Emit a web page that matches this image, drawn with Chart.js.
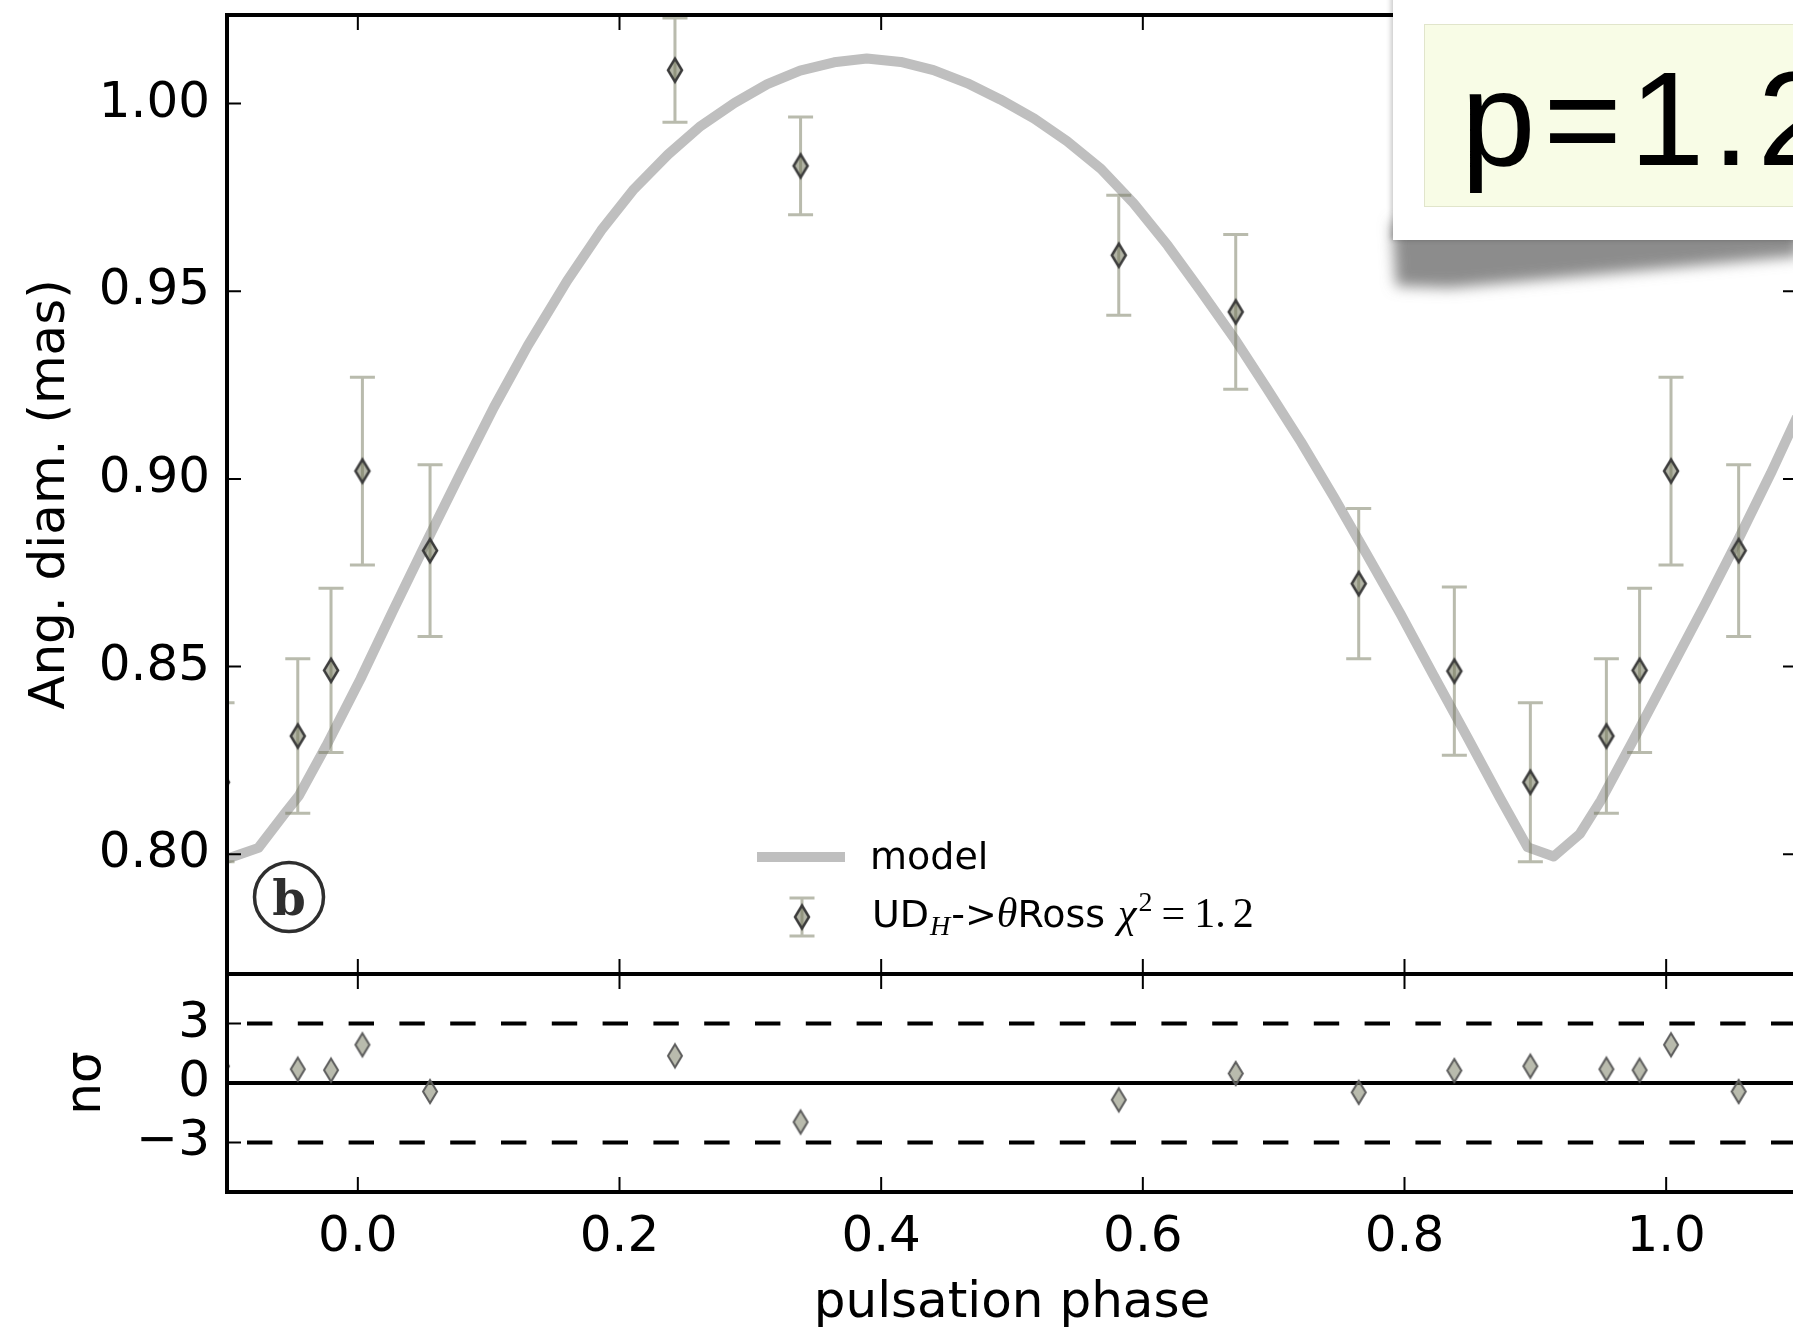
<!DOCTYPE html>
<html>
<head>
<meta charset="utf-8">
<title>Angular diameter vs pulsation phase</title>
<script src="https://cdn.jsdelivr.net/npm/chart.js@4.4.1/dist/chart.umd.min.js"></script>
<style>
  html, body { margin: 0; padding: 0; overflow: hidden; background: #fff; }
  #wrap { position: relative; width: 1793px; height: 1332px; overflow: hidden; }
  canvas, #shadow { position: absolute; left: 0; top: 0; }
  #card { position: absolute; left: 1393px; top: -20px; width: 420px; height: 260px; background: #fff;
          box-shadow: -2px 0 5px rgba(0, 0, 0, 0.22); }
  #note { position: absolute; left: 1424px; top: 24px; width: 400px; height: 181px;
          background: #f8fce6; border: 1px solid #e1e5cb; }
  #noteText { position: absolute; left: 1461px; top: 52px; font: 134px "Liberation Sans", Arial, sans-serif;
              line-height: 134px; letter-spacing: 8px; color: #000; white-space: nowrap; }
</style>
</head>
<body>
<div id="wrap">
  <canvas id="diamChart" width="1800" height="1332"></canvas>
  <canvas id="sigmaChart" width="1800" height="1332"></canvas>
  <svg id="shadow" width="1800" height="1332">
    <defs>
      <filter id="blur" x="-20%" y="-100%" width="140%" height="300%">
        <feGaussianBlur stdDeviation="7"/>
      </filter>
    </defs>
    <polygon points="1392,222 1800,222 1800,256 1450,288 1396,286" fill="#8c8c8c" filter="url(#blur)"/>
  </svg>
  <div id="card"></div>
  <div id="note"></div>
  <div id="noteText">p=1.2</div>
</div>

<script>
// interferometric points (phase, angular diameter in mas, 1-sigma error)
const phase   = [-0.1038, -0.0459, -0.0205, 0.0035, 0.0552, 0.2424, 0.3384, 0.5816,
                 0.6710, 0.7650, 0.8381, 0.8962, 0.9543, 0.9797, 1.0037, 1.0554];
const diam    = [0.8192, 0.8315, 0.8490, 0.9021, 0.8809, 1.0089, 0.9834, 0.9596,
                 0.9445, 0.8721, 0.8488, 0.8192, 0.8315, 0.8490, 0.9021, 0.8809];
const diamErr = [0.0212, 0.0206, 0.0219, 0.0250, 0.0229, 0.0139, 0.0130, 0.0160,
                 0.0206, 0.0200, 0.0224, 0.0212, 0.0206, 0.0219, 0.0250, 0.0229];
// residuals in units of sigma
const nSigma  = [0.85, 0.70, 0.65, 1.93, -0.43, 1.37, -1.97, -0.85,
                 0.48, -0.47, 0.63, 0.85, 0.70, 0.65, 1.93, -0.43];

// pulsation model curve
const modelPhase = [-0.100, -0.076, -0.056, -0.045, -0.024, 0.002, 0.027, 0.053, 0.078, 0.104,
                    0.130, 0.160, 0.186, 0.211, 0.237, 0.262, 0.288, 0.313, 0.338, 0.364,
                    0.389, 0.415, 0.440, 0.466, 0.491, 0.517, 0.542, 0.568, 0.593, 0.619,
                    0.644, 0.670, 0.695, 0.721, 0.746, 0.771, 0.797, 0.822, 0.848, 0.873,
                    0.894, 0.914, 0.934, 0.950, 0.975, 1.003, 1.030, 1.056, 1.080, 1.100];
const modelDiam  = [0.7988, 0.8017, 0.8108, 0.8156, 0.8290, 0.8467, 0.8650, 0.8836, 0.9012, 0.9191,
                    0.9356, 0.9528, 0.9662, 0.9772, 0.9864, 0.9940, 1.0002, 1.0052, 1.0088, 1.0110,
                    1.0120, 1.0111, 1.0089, 1.0054, 1.0011, 0.9960, 0.9900, 0.9826, 0.9734, 0.9622,
                    0.9502, 0.9374, 0.9240, 0.9098, 0.8952, 0.8800, 0.8640, 0.8478, 0.8312, 0.8150,
                    0.8019, 0.7994, 0.8054, 0.8143, 0.8305, 0.8490, 0.8668, 0.8845, 0.9015, 0.9165];

const xTicks = [0.0, 0.2, 0.4, 0.6, 0.8, 1.0];
const diamTicks = [0.80, 0.85, 0.90, 0.95, 1.00];
const sigmaTicks = [-3, 0, 3];
const sigmaLevels = [3, 0, -3];

const xMin = -0.1, xMax = 1.1;
const diamMin = 0.7681, diamMax = 1.0236;
const sigmaMin = -5.5, sigmaMax = 5.5;

const SANS = '"DejaVu Sans", sans-serif';
const SERIF = '"Liberation Serif", serif';
const modelColor = '#bfbfbf';
const errColor = 'rgba(115, 119, 91, 0.5)';

function thinDiamond(w, h, fill, edge, lw) {
  const pad = 5;
  const c = document.createElement('canvas');
  c.width = w + pad * 2;
  c.height = h + pad * 2;
  const g = c.getContext('2d');
  const cx = c.width / 2, cy = c.height / 2;
  g.beginPath();
  g.moveTo(cx, cy - h / 2);
  g.lineTo(cx + w / 2, cy);
  g.lineTo(cx, cy + h / 2);
  g.lineTo(cx - w / 2, cy);
  g.closePath();
  g.fillStyle = fill;
  g.fill();
  g.lineWidth = lw;
  g.strokeStyle = edge;
  g.stroke();
  return c;
}

const diamondTop = thinDiamond(14, 23, 'rgba(115, 119, 91, 0.55)', '#3c3c3c', 2.5);
const diamondRes = thinDiamond(14, 23, 'rgba(115, 119, 91, 0.5)', '#5c5c5c', 2);

// box with inward ticks, matplotlib style
const frame = {
  id: 'frame',
  afterDraw(chart, args, opts) {
    const { ctx, chartArea: a, scales: { x, y } } = chart;
    ctx.save();
    ctx.strokeStyle = '#000';
    ctx.lineWidth = 2;
    ctx.beginPath();
    xTicks.forEach(v => {
      const px = x.getPixelForValue(v);
      ctx.moveTo(px, a.top); ctx.lineTo(px, a.top + 15);
      ctx.moveTo(px, a.bottom); ctx.lineTo(px, a.bottom - 15);
    });
    opts.yTicks.forEach(v => {
      const py = y.getPixelForValue(v);
      ctx.moveTo(a.left, py); ctx.lineTo(a.left + 14, py);
      ctx.moveTo(a.right, py); ctx.lineTo(a.right - 14, py);
    });
    ctx.stroke();
    ctx.lineWidth = 4;
    ctx.strokeRect(a.left, a.top, a.right - a.left, a.bottom - a.top);
    ctx.restore();
  }
};

function drawErrorBar(ctx, px, yHi, yLo) {
  ctx.beginPath();
  ctx.moveTo(px, yHi); ctx.lineTo(px, yLo);
  ctx.moveTo(px - 12.5, yHi); ctx.lineTo(px + 12.5, yHi);
  ctx.moveTo(px - 12.5, yLo); ctx.lineTo(px + 12.5, yLo);
  ctx.stroke();
}

const errorBars = {
  id: 'errorBars',
  beforeDatasetDraw(chart, args) {
    if (args.index !== 0) return;
    const { ctx, chartArea: a, scales: { x, y } } = chart;
    ctx.save();
    ctx.beginPath();
    ctx.rect(a.left, a.top, a.right - a.left, a.bottom - a.top);
    ctx.clip();
    ctx.strokeStyle = errColor;
    ctx.lineWidth = 3;
    phase.forEach((p, i) => {
      drawErrorBar(ctx, x.getPixelForValue(p),
        y.getPixelForValue(diam[i] + diamErr[i]),
        y.getPixelForValue(diam[i] - diamErr[i]));
    });
    ctx.restore();
  }
};

function drawRich(ctx, parts, x, y) {
  parts.forEach(p => {
    ctx.font = p.font;
    x += p.pre || 0;
    ctx.fillText(p.text, x, y + (p.dy || 0));
    x += ctx.measureText(p.text).width;
  });
}

const legendAndBadge = {
  id: 'legendAndBadge',
  afterDatasetsDraw(chart) {
    const { ctx, chartArea: a } = chart;
    const x0 = a.left + 530, y0 = a.bottom - 117;
    ctx.save();
    ctx.fillStyle = '#000';
    ctx.textBaseline = 'alphabetic';

    ctx.strokeStyle = modelColor;
    ctx.lineWidth = 10;
    ctx.beginPath(); ctx.moveTo(x0, y0); ctx.lineTo(x0 + 88, y0); ctx.stroke();
    ctx.font = '38px ' + SANS;
    ctx.fillText(chart.data.datasets[1].label, x0 + 113, y0 + 12);

    const y1 = y0 + 60, mx = x0 + 45;
    ctx.strokeStyle = errColor;
    ctx.lineWidth = 3;
    drawErrorBar(ctx, mx, y1 - 19, y1 + 19);
    ctx.drawImage(diamondTop, mx - diamondTop.width / 2, y1 - diamondTop.height / 2);
    drawRich(ctx, [
      { text: 'UD', font: '38px ' + SANS },
      { text: 'H', font: 'italic 28px ' + SERIF, dy: 8, pre: 1 },
      { text: '->', font: '38px ' + SANS, pre: 1 },
      { text: 'θ', font: 'italic 42px ' + SERIF },
      { text: 'Ross', font: '38px ' + SANS },
      { text: 'χ', font: 'italic 42px ' + SERIF, pre: 13 },
      { text: '2', font: '28px ' + SERIF, dy: -16, pre: 2 },
      { text: '=', font: '42px ' + SERIF, pre: 9 },
      { text: '1', font: '42px ' + SERIF, pre: 9 },
      { text: '.', font: '42px ' + SERIF },
      { text: '2', font: '42px ' + SERIF, pre: 7 }
    ], x0 + 115, y1 + 10);

    // panel tag
    const bx = a.left + 62, by = a.bottom - 77;
    ctx.strokeStyle = '#2e2e2e';
    ctx.lineWidth = 3.5;
    ctx.beginPath(); ctx.arc(bx, by, 34.5, 0, Math.PI * 2); ctx.stroke();
    ctx.fillStyle = '#2e2e2e';
    ctx.font = 'bold 48px "DejaVu Serif", serif';
    ctx.textAlign = 'center';
    ctx.fillText('b', bx, by + 18);
    ctx.restore();
  }
};

const tickFont = { family: SANS, size: 50 };

new Chart(document.getElementById('diamChart'), {
  type: 'line',
  data: {
    datasets: [
      {
        label: 'UD_H->θRoss χ² = 1.2',
        data: phase.map((p, i) => ({ x: p, y: diam[i] })),
        showLine: false,
        pointStyle: diamondTop,
        pointRadius: 12,
        order: 0,
        clip: 0
      },
      {
        label: 'model',
        data: modelPhase.map((p, i) => ({ x: p, y: modelDiam[i] })),
        borderColor: modelColor,
        borderWidth: 10,
        borderJoinStyle: 'round',
        pointRadius: 0,
        tension: 0,
        order: 1,
        clip: 0
      }
    ]
  },
  options: {
    responsive: false,
    animation: false,
    devicePixelRatio: 1,
    events: [],
    layout: { padding: { left: 0, top: 15, right: 3, bottom: 358 }, autoPadding: false },
    plugins: {
      legend: { display: false },
      tooltip: { enabled: false },
      frame: { yTicks: diamTicks }
    },
    scales: {
      x: {
        type: 'linear', min: xMin, max: xMax,
        ticks: { display: false },
        grid: { display: false, drawTicks: false },
        border: { display: false },
        afterFit: s => { s.height = 0; s.paddingLeft = 0; s.paddingRight = 0; }
      },
      y: {
        type: 'linear', min: diamMin, max: diamMax,
        afterBuildTicks: s => { s.ticks = diamTicks.map(v => ({ value: v })); },
        ticks: { font: tickFont, color: '#000', padding: 17, autoSkip: false, callback: v => v.toFixed(2) },
        grid: { display: false, drawTicks: false },
        border: { display: false },
        title: { display: true, text: 'Ang. diam. (mas)', color: '#000', font: tickFont, padding: { top: 21, bottom: 0 } },
        afterFit: s => { s.width = 227; s.paddingTop = 0; s.paddingBottom = 0; }
      }
    }
  },
  plugins: [errorBars, legendAndBadge, frame]
});

new Chart(document.getElementById('sigmaChart'), {
  type: 'line',
  data: {
    datasets: [
      {
        label: 'residuals',
        data: phase.map((p, i) => ({ x: p, y: nSigma[i] })),
        showLine: false,
        pointStyle: diamondRes,
        pointRadius: 12,
        order: 0,
        clip: 0
      },
      ...sigmaLevels.map(lv => ({
        label: 'level ' + lv,
        data: [{ x: xMin, y: lv }, { x: xMax, y: lv }],
        borderColor: '#000',
        borderWidth: 4,
        borderDash: lv === 0 ? [] : [25.4, 25.4],
        borderDashOffset: 30.8,
        pointRadius: 0,
        order: 1,
        clip: 0
      }))
    ]
  },
  options: {
    responsive: false,
    animation: false,
    devicePixelRatio: 1,
    events: [],
    layout: { padding: { left: 0, top: 974, right: 3, bottom: 0 }, autoPadding: false },
    plugins: {
      legend: { display: false },
      tooltip: { enabled: false },
      frame: { yTicks: sigmaTicks }
    },
    scales: {
      x: {
        type: 'linear', min: xMin, max: xMax,
        afterBuildTicks: s => { s.ticks = xTicks.map(v => ({ value: v })); },
        ticks: { font: tickFont, color: '#000', padding: 16, autoSkip: false, maxRotation: 0, callback: v => v.toFixed(1) },
        grid: { display: false, drawTicks: false },
        border: { display: false },
        title: { display: true, text: 'pulsation phase', color: '#000', font: tickFont, padding: { top: 0, bottom: -2 } },
        afterFit: s => { s.height = 140; s.paddingLeft = 0; s.paddingRight = 0; }
      },
      y: {
        type: 'linear', min: sigmaMin, max: sigmaMax,
        afterBuildTicks: s => { s.ticks = sigmaTicks.map(v => ({ value: v })); },
        ticks: { font: tickFont, color: '#000', padding: 17, autoSkip: false,
                 callback: v => (v < 0 ? '\u2212' + Math.abs(v) : String(v)) },
        grid: { display: false, drawTicks: false },
        border: { display: false },
        title: { display: true, text: 'nσ', color: '#000', font: tickFont, padding: { top: 57, bottom: 0 } },
        afterFit: s => { s.width = 227; s.paddingTop = 0; s.paddingBottom = 0; }
      }
    }
  },
  plugins: [frame]
});
</script>
</body>
</html>
